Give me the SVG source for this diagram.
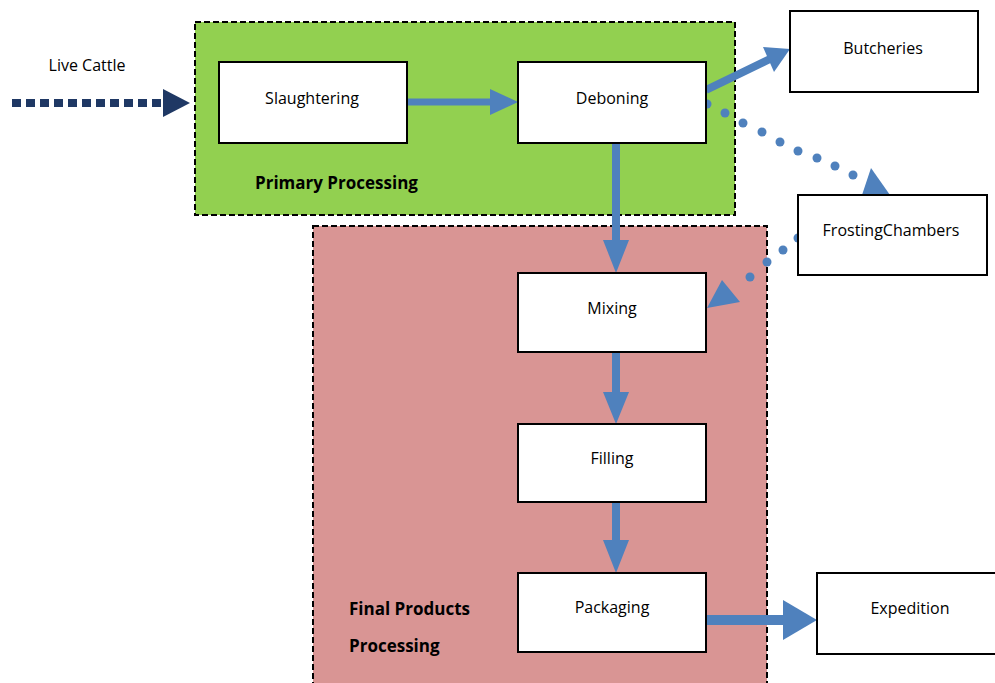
<svg xmlns="http://www.w3.org/2000/svg" width="995" height="683" viewBox="0 0 995 683">
<defs>
<style>
.box{fill:#fff;stroke:#000;stroke-width:2}
.t{font-family:"Open Sans","Liberation Sans",sans-serif;font-size:16px;fill:#000;text-anchor:middle}
.b{font-family:"Open Sans","Liberation Sans",sans-serif;font-size:17px;font-weight:bold;fill:#000}
.blue{stroke:#4F81BD;fill:none}
.ah{fill:#4F81BD}
.dot{fill:#4F81BD}
</style>
</defs>
<rect width="995" height="683" fill="#fff"/>
<g id="primary-processing">
<rect x="195" y="22" width="540" height="193" fill="#92D050" stroke="#000" stroke-width="2" stroke-dasharray="6,3"/>
<text class="b" x="255" y="189">Primary Processing</text>
</g>
<g id="final-products-processing">
<rect x="313" y="226" width="454" height="470" fill="#D99594" stroke="#000" stroke-width="2" stroke-dasharray="6,3"/>
<text class="b" x="349" y="615">Final Products</text>
<text class="b" x="349" y="652">Processing</text>
</g>
<g id="connectors">
<line x1="12" y1="103" x2="166" y2="103" stroke="#1F3864" stroke-width="8" stroke-dasharray="9,5"/>
<polygon points="163,89 190,103 163,117" fill="#1F3864"/>
<line class="blue" x1="407" y1="102" x2="492" y2="102" stroke-width="7"/>
<polygon class="ah" points="490,89 518,102 490,115"/>
<line class="blue" x1="616" y1="143" x2="616" y2="242" stroke-width="8"/>
<polygon class="ah" points="603,240 629,240 616,273"/>
<line class="blue" x1="616" y1="352" x2="616" y2="394" stroke-width="8"/>
<polygon class="ah" points="603,392 629,392 616,424"/>
<line class="blue" x1="616" y1="502" x2="616" y2="542" stroke-width="8"/>
<polygon class="ah" points="603,540 629,540 616,573"/>
<line class="blue" x1="706" y1="620" x2="785" y2="620" stroke-width="10"/>
<polygon class="ah" points="783,600 817,620 783,640"/>
<line class="blue" x1="706" y1="90" x2="772" y2="58" stroke-width="8"/>
<polygon class="ah" points="763,47 790,49 774,72"/>
<g class="dot">
<circle cx="707" cy="104" r="4.5"/><circle cx="725" cy="113" r="4.5"/><circle cx="743" cy="123" r="4.5"/>
<circle cx="762" cy="132" r="4.5"/><circle cx="780" cy="142" r="4.5"/><circle cx="798" cy="151" r="4.5"/>
<circle cx="817" cy="158" r="4.5"/><circle cx="835" cy="166" r="4.5"/><circle cx="853" cy="175" r="4.5"/>
<circle cx="798" cy="238" r="4.5"/><circle cx="783" cy="250" r="4.5"/><circle cx="767" cy="262" r="4.5"/><circle cx="750" cy="277" r="4.5"/>
</g>
<polygon class="ah" points="862,195 890,195 871,168"/>
<polygon class="ah" points="722,280 740,302 707,308"/>
</g>
<g id="slaughtering"><rect class="box" x="219" y="62" width="188" height="81"/><text class="t" x="312" y="104">Slaughtering</text></g>
<g id="deboning"><rect class="box" x="518" y="62" width="188" height="81"/><text class="t" x="612" y="104">Deboning</text></g>
<g id="butcheries"><rect class="box" x="790" y="11" width="188" height="81"/><text class="t" x="883" y="54">Butcheries</text></g>
<g id="frosting-chambers"><rect class="box" x="798" y="195" width="189" height="80"/><text class="t" x="891" y="236">FrostingChambers</text></g>
<g id="mixing"><rect class="box" x="518" y="273" width="188" height="79"/><text class="t" x="612" y="314">Mixing</text></g>
<g id="filling"><rect class="box" x="518" y="424" width="188" height="78"/><text class="t" x="612" y="464">Filling</text></g>
<g id="packaging"><rect class="box" x="518" y="573" width="188" height="79"/><text class="t" x="612" y="613">Packaging</text></g>
<g id="expedition"><rect class="box" x="817" y="573" width="190" height="81"/><text class="t" x="910" y="614">Expedition</text></g>
<g id="live-cattle"><text class="t" x="87" y="71">Live Cattle</text></g>
</svg>
